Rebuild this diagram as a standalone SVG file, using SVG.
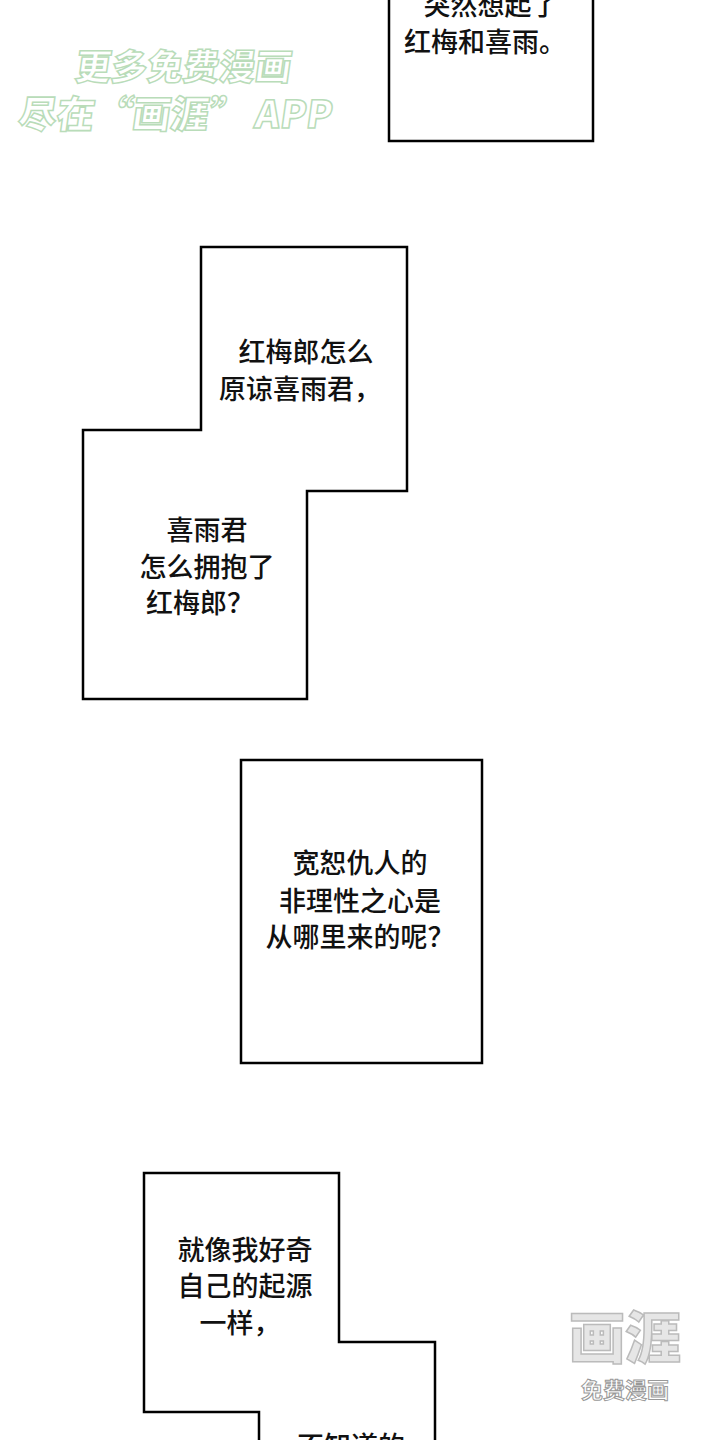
<svg xmlns="http://www.w3.org/2000/svg" width="720" height="1440" viewBox="0 0 720 1440">
<style>
.b{fill:#fff;stroke:#000;stroke-width:2.5}
.t{font-family:"Noto Sans CJK SC","Noto Sans",sans-serif;font-size:27px;font-weight:500;fill:#111;text-anchor:middle}
.w{font-family:"Noto Sans CJK SC",sans-serif;font-weight:900;fill:#fff;stroke:#b9dcb9;stroke-width:1.5}
</style>
<rect width="720" height="1440" fill="#fff"/>
<g id="watermark1" transform="skewX(-8)">
<text class="w" x="85" y="80" font-size="36">更多免费漫画</text>
<text class="w" x="35" y="128" font-size="38">尽在“画涯” APP</text>
</g>
<g id="box1">
<rect class="b" x="389" y="-10" width="204" height="151"/>
<text class="t" x="491" y="15">突然想起了</text>
<text class="t" x="485" y="52">红梅和喜雨。</text>
</g>
<g id="box2">
<path class="b" d="M201,247H407V491H307V699H83V430H201Z"/>
<text class="t" x="306" y="362">红梅郎怎么</text>
<text class="t" x="300" y="399">原谅喜雨君，</text>
<text class="t" x="207" y="540">喜雨君</text>
<text class="t" x="207" y="577">怎么拥抱了</text>
<text class="t" x="200" y="613">红梅郎？</text>
</g>
<g id="box3">
<rect class="b" x="241" y="760" width="241" height="303"/>
<text class="t" x="360" y="873">宽恕仇人的</text>
<text class="t" x="360" y="911">非理性之心是</text>
<text class="t" x="360" y="947">从哪里来的呢？</text>
</g>
<g id="box4">
<path class="b" d="M144,1173H339V1342H435V1460H259V1412H144Z"/>
<text class="t" x="245" y="1260">就像我好奇</text>
<text class="t" x="245" y="1296">自己的起源</text>
<text class="t" x="240" y="1333">一样，</text>
<text class="t" x="351" y="1456">不知道的</text>
</g>
<g id="watermark2">
<text x="625" y="1358" font-family="Noto Sans CJK SC,sans-serif" font-weight="900" font-size="56" fill="#e6e6e6" stroke="#bbb" stroke-width="1.5" text-anchor="middle">画涯</text>
<text x="625" y="1398" font-family="Noto Sans CJK SC,sans-serif" font-weight="700" font-size="22" fill="#fff" stroke="#999" stroke-width="1" text-anchor="middle">免费漫画</text>
</g>
</svg>
